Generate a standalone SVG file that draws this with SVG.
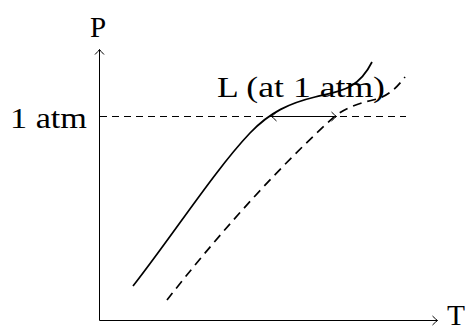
<svg xmlns="http://www.w3.org/2000/svg" width="468" height="331" viewBox="0 0 468 331">
<style>
  text { font-family: "Liberation Serif", "DejaVu Serif", serif; font-size: 29px; fill: #000; }
  .ax { stroke: #000; stroke-width: 1; fill: none; }
  .curve { stroke: #000; stroke-width: 1.7; fill: none; }
  .dash { stroke-dasharray: 9 6; }
  .hd { stroke: #000; stroke-width: 1; fill: none; stroke-dasharray: 7 5; }
</style>
<defs>
  <marker id="to" viewBox="-6 -6 8 12" markerWidth="8" markerHeight="12" refX="0" refY="0" orient="auto-start-reverse" markerUnits="userSpaceOnUse">
    <path d="M-5,-4.5 Q-1.5,-1 0,0 Q-1.5,1 -5,4.5" fill="none" stroke="#000" stroke-width="1"/>
  </marker>
</defs>
<g id="axes">
  <line class="ax" x1="99.5" y1="320.5" x2="99.5" y2="49.5" marker-end="url(#to)"/>
  <line class="ax" x1="99.5" y1="320.5" x2="437.5" y2="320.5" marker-end="url(#to)"/>
  <text id="P" x="98" y="37" text-anchor="middle">P</text>
  <text id="T" x="447" y="325" font-size="26" textLength="18" lengthAdjust="spacingAndGlyphs">T</text>
  <text id="atm" x="10" y="128" textLength="77" lengthAdjust="spacingAndGlyphs">1 atm</text>
</g>
<g id="connectors">
  <line class="hd" x1="100" y1="116.5" x2="406" y2="116.5"/>
  <path id="solid" class="curve" d="M133,286 C175,232 215,170 250,133 C270,112 290,103 315,97 C340,91 358,90 372,62"/>
  <path id="dashed" class="curve dash" d="M167,300 C210,245 270,175 335,116 C350,105 365,102 377,99 C390,95 398,86 405,77"/>
  <line class="ax" x1="271.5" y1="116.5" x2="336.5" y2="116.5" marker-start="url(#to)" marker-end="url(#to)"/>
</g>
<g id="label">
  <text x="217" y="97" textLength="168" lengthAdjust="spacingAndGlyphs">L (at 1 atm)</text>
</g>
</svg>
